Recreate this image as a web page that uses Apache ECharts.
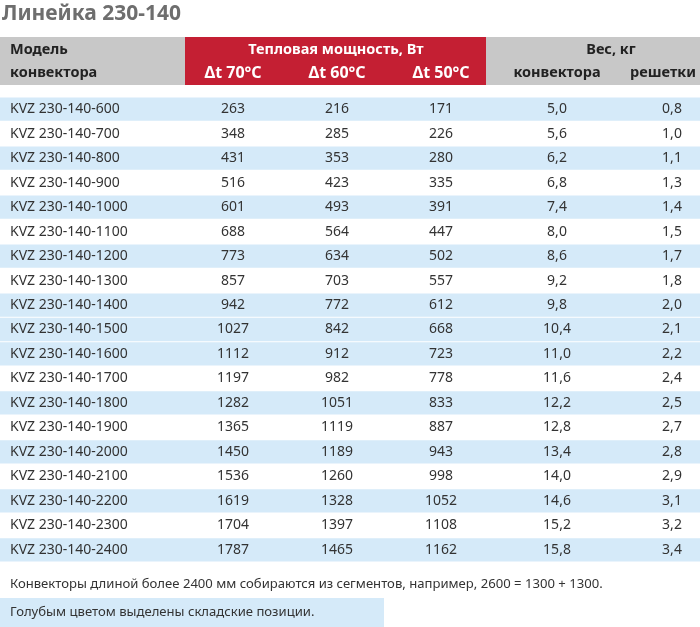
<!DOCTYPE html>
<html>
<head>
<meta charset="utf-8">
<script src="https://cdn.jsdelivr.net/npm/echarts@6/dist/echarts.min.js"></script>
<style>
html,body{margin:0;padding:0;background:#fff;}
#c{width:700px;height:627px;}
</style>
</head>
<body>
<div id="c"></div>
<script>
// ---- data ----
var models = ['KVZ 230-140-600','KVZ 230-140-700','KVZ 230-140-800','KVZ 230-140-900','KVZ 230-140-1000','KVZ 230-140-1100','KVZ 230-140-1200','KVZ 230-140-1300','KVZ 230-140-1400','KVZ 230-140-1500','KVZ 230-140-1600','KVZ 230-140-1700','KVZ 230-140-1800','KVZ 230-140-1900','KVZ 230-140-2000','KVZ 230-140-2100','KVZ 230-140-2200','KVZ 230-140-2300','KVZ 230-140-2400'];
var power70 = [263,348,431,516,601,688,773,857,942,1027,1112,1197,1282,1365,1450,1536,1619,1704,1787];
var power60 = [216,285,353,423,493,564,634,703,772,842,912,982,1051,1119,1189,1260,1328,1397,1465];
var power50 = [171,226,280,335,391,447,502,557,612,668,723,778,833,887,943,998,1052,1108,1162];
var weightConv = [5.0,5.6,6.2,6.8,7.4,8.0,8.6,9.2,9.8,10.4,11.0,11.6,12.2,12.8,13.4,14.0,14.6,15.2,15.8];
var weightGrille = [0.8,1.0,1.1,1.3,1.4,1.5,1.7,1.8,2.0,2.1,2.2,2.4,2.5,2.7,2.8,2.9,3.1,3.2,3.4];
var inStock = [1,0,1,0,1,0,1,0,1,1,1,0,1,0,1,0,1,0,1];

var titleText = 'Линейка 230-140';
var headModel = ['Модель','конвектора'];
var headPower = 'Тепловая мощность, Вт';
var headDeltas = ['Δt 70°C','Δt 60°C','Δt 50°C'];
var headWeight = 'Вес, кг';
var headWeightSub = ['конвектора','решетки'];
var note1 = 'Конвекторы длиной более 2400 мм собираются из сегментов, например, 2600 = 1300 + 1300.';
var note2 = 'Голубым цветом выделены складские позиции.';

// ---- layout / style ----
var FONT = 'Noto Sans';
var COL_X = [233, 337, 441, 557, 672];
var TXT = '#333333';
var RED = '#c41f33';
var GRAY = '#c8c8c8';
var BLUE = '#d5eaf9';

function comma(v){ return v.toFixed(1).replace('.', ','); }

var columns = [
  {vals: power70, fmt: String},
  {vals: power60, fmt: String},
  {vals: power50, fmt: String},
  {vals: weightConv, fmt: comma},
  {vals: weightGrille, fmt: comma}
];

var chart = echarts.init(document.getElementById('c'), null, {renderer:'canvas'});

var valueSeries = columns.map(function(col, k){
  return {
    type: 'custom',
    z: 5,
    silent: true,
    data: col.vals.map(function(v, i){ return [COL_X[k], i, v]; }),
    encode: {x: 0, y: 1},
    renderItem: function(params, api){
      var pt = api.coord([api.value(0), api.value(1)]);
      return {
        type: 'text',
        x: pt[0], y: pt[1],
        style: {
          text: col.fmt(api.value(2)),
          fill: TXT, font: '14px "' + FONT + '"',
          textAlign: 'center', textVerticalAlign: 'middle'
        }
      };
    }
  };
});

var stripeSeries = {
  type: 'custom',
  z: 1,
  silent: true,
  data: inStock.map(function(s, i){ return [i, s]; }),
  encode: {y: 0},
  renderItem: function(params, api){
    if (!api.value(1)) return null;
    var idx = api.value(0);
    var pt = api.coord([0, idx]);
    var h = api.size([0, 1])[1];
    var cs = params.coordSys;
    return {
      type: 'rect',
      shape: {x: cs.x, y: pt[1] - h/2 + 0.6, width: cs.width, height: h - 1.2},
      style: {fill: BLUE}
    };
  }
};

var hdrText = function(t, x, y, align, color, size){
  return {type:'text', x:x, y:y, style:{text:t, fill:color||'#222', font:'bold '+(size||14.5)+'px "'+FONT+'"', textAlign:align||'left', textVerticalAlign:'middle'}};
};

var graphics = [
  {type:'text', x:2, y:14, style:{text:titleText, fill:'#6e6e6e', font:'bold 21px "'+FONT+'"', textVerticalAlign:'middle'}},
  {type:'rect', shape:{x:0, y:37, width:185, height:48}, style:{fill:GRAY}},
  {type:'rect', shape:{x:185, y:37, width:301, height:48}, style:{fill:RED}},
  {type:'rect', shape:{x:486, y:37, width:214, height:48}, style:{fill:GRAY}},
  hdrText(headModel[0], 10, 50),
  hdrText(headModel[1], 10, 73),
  hdrText(headPower, 336, 50, 'center', '#fff'),
  hdrText(headDeltas[0], COL_X[0], 73, 'center', '#fff', 16),
  hdrText(headDeltas[1], COL_X[1], 73, 'center', '#fff', 16),
  hdrText(headDeltas[2], COL_X[2], 73, 'center', '#fff', 16),
  hdrText(headWeight, 611, 50, 'center'),
  hdrText(headWeightSub[0], 557, 73, 'center'),
  hdrText(headWeightSub[1], 663, 73, 'center'),
  {type:'text', x:10, y:584, style:{text:note1, fill:TXT, font:'13.1px "'+FONT+'"', textVerticalAlign:'middle'}},
  {type:'rect', shape:{x:0, y:598, width:384, height:29}, style:{fill:BLUE}},
  {type:'text', x:10, y:612, style:{text:note2, fill:TXT, font:'13.1px "'+FONT+'"', textVerticalAlign:'middle'}}
];

chart.setOption({
  animation: false,
  grid: {left:0, right:0, top:97, bottom:65, containLabel:false},
  xAxis: {type:'value', min:0, max:700, show:false},
  yAxis: {
    type:'category', inverse:true, data: models, z: 10,
    axisLine:{show:false}, axisTick:{show:false}, splitLine:{show:false},
    axisLabel:{inside:true, margin:10, color:TXT, fontFamily:FONT, fontSize:14}
  },
  graphic: graphics,
  series: [stripeSeries].concat(valueSeries)
});
</script>
</body>
</html>
